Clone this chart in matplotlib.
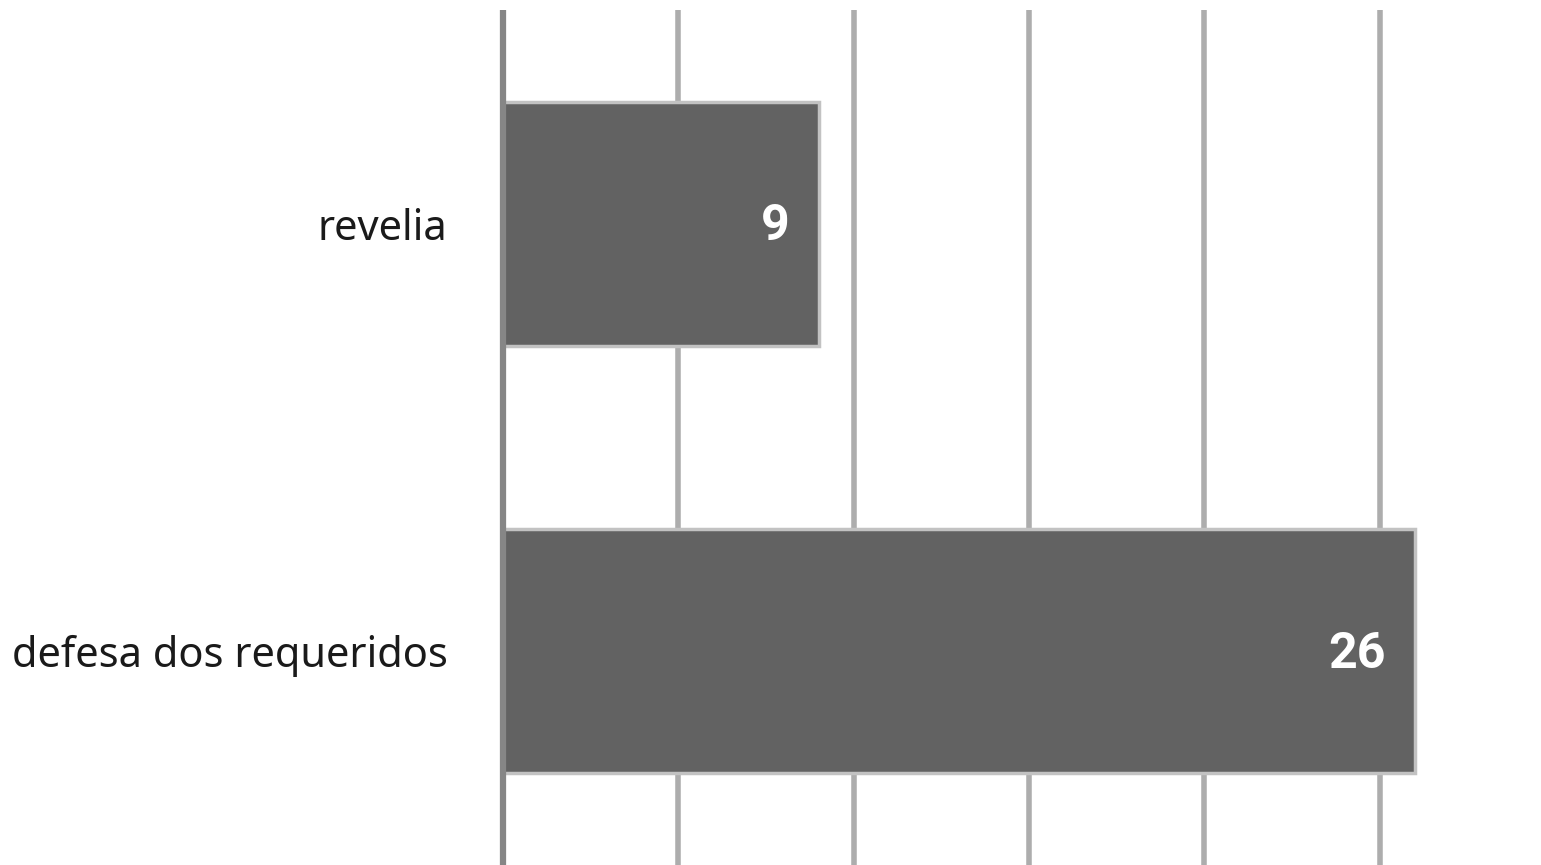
import matplotlib
matplotlib.use("Agg")
from matplotlib import pyplot as plt

# chart data
categories = ["defesa dos requeridos", "revelia"]
values = [26, 9]
grid_ticks = [5, 10, 15, 20, 25]

plt.rcParams['font.family'] = ['Noto Sans', 'DejaVu Sans']

fig = plt.figure(figsize=(15.41, 8.65), dpi=100)
ax = fig.add_axes([503 / 1541, 0.0, 1 - 503 / 1541, 1 - 10 / 865])
ax.set_xlim(0, 29.6)
ax.set_ylim(-0.5, 1.5)

# vertical gridlines behind the bars
for t in grid_ticks:
    ax.axvline(t, color='#adadad', linewidth=4.0, zorder=0)
ax.axvline(0, color='#868686', linewidth=4.5, zorder=3, clip_on=False,
           solid_capstyle='butt')

bars = ax.barh(range(len(categories)), values, height=0.57,
               color='#626262', edgecolor='#c2c2c2', linewidth=2.5, zorder=2)

# value labels inside the bar ends
for bar, v in zip(bars, values):
    ax.annotate(str(v), xy=(bar.get_width(), bar.get_y() + bar.get_height() / 2),
                xytext=(-21, -2), textcoords='offset points',
                ha='right', va='center', color='white',
                fontsize=36, fontweight='bold', family=['Roboto', 'DejaVu Sans'],
                zorder=4)

ax.set_yticks(range(len(categories)))
ax.set_yticklabels(categories, fontsize=30, color='#1a1a1a')
ax.tick_params(axis='y', length=0, pad=40)
ax.set_xticks([])
for s in ax.spines.values():
    s.set_visible(False)

fig.savefig("out.png", dpi=100)
